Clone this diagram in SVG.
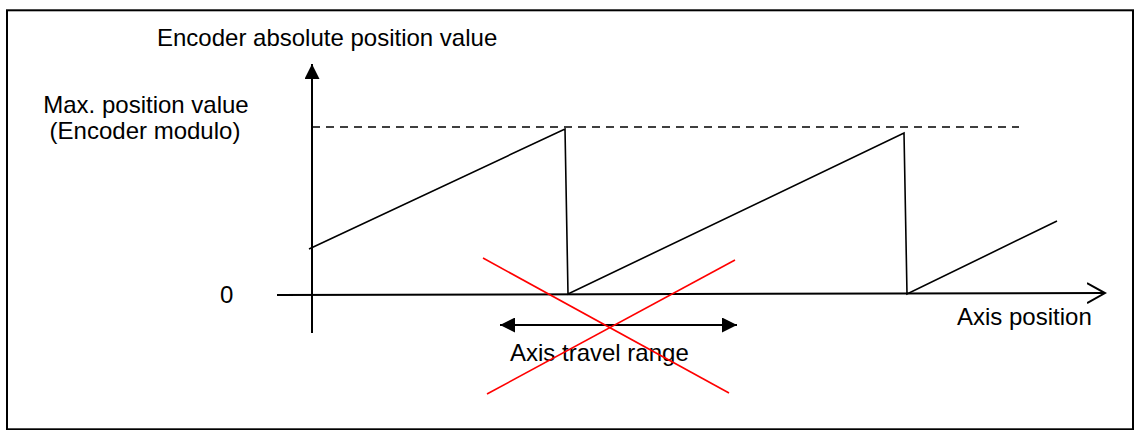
<svg xmlns="http://www.w3.org/2000/svg" width="1134" height="430" viewBox="0 0 1134 430">
<style>
text{font-family:"Liberation Sans",Arial,sans-serif;font-size:24px;fill:#000}
.ln{stroke:#000;stroke-width:2;fill:none}
.saw{stroke:#000;stroke-width:1.6;fill:none;stroke-linejoin:miter}
.dash{stroke:#000;stroke-width:1.6;stroke-dasharray:8 6;fill:none}
.red{stroke:#ff0000;stroke-width:1.6;fill:none}
</style>
<defs>
<marker id="fill" viewBox="0 0 15 15" refX="15" refY="7.5" markerWidth="15" markerHeight="15" markerUnits="userSpaceOnUse" orient="auto-start-reverse">
<path d="M0,0 L15,7.5 L0,15 Z" fill="#000"/>
</marker>
<marker id="open" viewBox="0 0 20 24" refX="18" refY="12" markerWidth="20" markerHeight="24" markerUnits="userSpaceOnUse" orient="auto">
<path d="M0,2 L18,12 L0,22" fill="none" stroke="#000" stroke-width="2"/>
</marker>
</defs>
<rect width="1134" height="430" fill="#fff"/>
<g id="frame">
<rect class="ln" x="7" y="10.3" width="1126" height="419"/>
</g>
<g id="labels">
<text id="y-label" x="157" y="46">Encoder absolute position value</text>
<text id="max-label" x="146" y="113" text-anchor="middle">Max. position value</text>
<text id="max-label2" x="145" y="139" text-anchor="middle">(Encoder modulo)</text>
<text id="zero-label" x="220" y="303">0</text>
<text id="x-label" x="957" y="325">Axis position</text>
<text id="range-label" x="510" y="361">Axis travel range</text>
</g>
<g id="connectors">
<line id="y-axis" class="ln" x1="312" y1="333" x2="312" y2="64" marker-end="url(#fill)"/>
<line id="x-axis" class="ln" x1="277" y1="295" x2="1105" y2="293" marker-end="url(#open)"/>
<line id="max-line" class="dash" x1="312" y1="127" x2="1019" y2="127"/>
<polyline id="sawtooth" class="saw" points="309,249 565,129 568,294 904,133 907,294 1057,221"/>
<line id="range" class="ln" x1="500" y1="325" x2="737" y2="325" marker-start="url(#fill)" marker-end="url(#fill)"/>
<line id="cross1" class="red" x1="483" y1="258" x2="729" y2="393"/>
<line id="cross2" class="red" x1="735" y1="260" x2="487" y2="394"/>
</g>
</svg>
